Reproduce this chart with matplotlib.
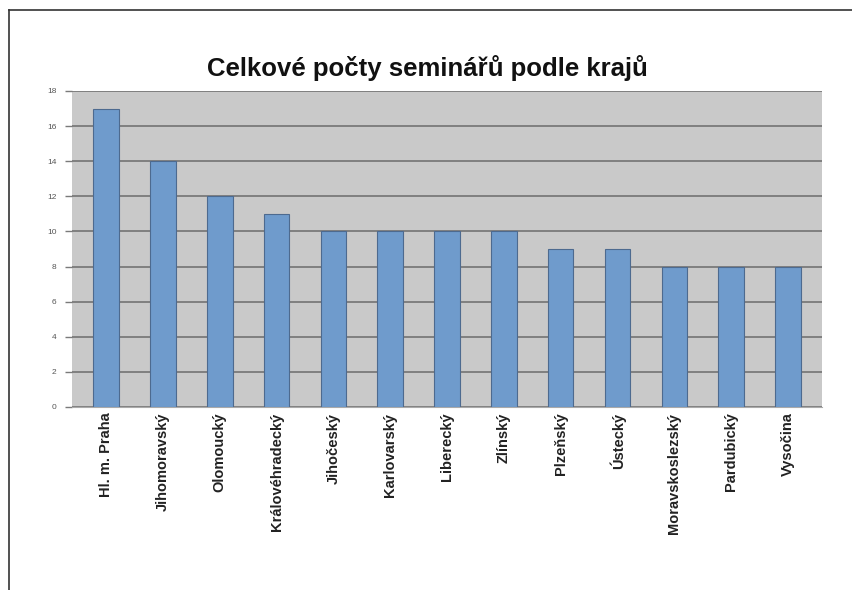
import matplotlib
matplotlib.use('Agg')
import matplotlib.pyplot as plt
from matplotlib.lines import Line2D

# Seminar counts per region
regions = ["Hl. m. Praha", "Jihomoravský", "Olomoucký", "Královéhradecký",
           "Jihočeský", "Karlovarský", "Liberecký", "Zlínský", "Plzeňský",
           "Ústecký", "Moravskoslezský", "Pardubický", "Vysočina"]
counts = [17, 14, 12, 11, 10, 10, 10, 10, 9, 9, 8, 8, 8]
y_ticks = [0, 2, 4, 6, 8, 10, 12, 14, 16, 18]

plt.rcParams['font.family'] = ['Liberation Sans', 'DejaVu Sans']

fig = plt.figure(figsize=(8.53, 5.90), dpi=100)
ax = fig.add_axes([0.0844, 0.3102, 0.8793, 0.5356])
ax.set_facecolor('#c9c9c9')

x = range(len(regions))
ax.bar(x, counts, width=0.45, color='#6f9bcc', edgecolor='#4d6a8f',
       linewidth=0.8, zorder=3)

ax.set_ylim(0, 18)
ax.set_xlim(-0.6, len(regions) - 0.4)
ax.set_yticks(y_ticks)
ax.set_yticklabels([str(v) for v in y_ticks], fontsize=6, color='#555555')
ax.yaxis.grid(True, color='#7a7a7a', linewidth=1.3, zorder=1)
ax.tick_params(axis='y', length=5, width=1, color='#7a7a7a', pad=6)
ax.tick_params(axis='x', length=0, pad=4)
ax.set_xticks(list(x))
ax.set_xticklabels(regions, rotation=90, fontsize=10.5, fontweight='bold',
                   va='top', color='#222222')
for side in ['top', 'right', 'left']:
    ax.spines[side].set_visible(False)
ax.spines['bottom'].set_color('#aaaaaa')

fig.text(0.501, 0.885, "Celkové počty seminářů podle krajů", ha='center',
         va='center', fontsize=18.5, fontweight='bold', color='#111111')

# Outer frame lines (top and left)
fig.add_artist(Line2D([9 / 853, 1.0], [1 - 10 / 590, 1 - 10 / 590],
                      color='#333333', linewidth=1.2))
fig.add_artist(Line2D([9 / 853, 9 / 853], [0, 1 - 10 / 590],
                      color='#333333', linewidth=1.2))

fig.savefig('out.png', dpi=100)
